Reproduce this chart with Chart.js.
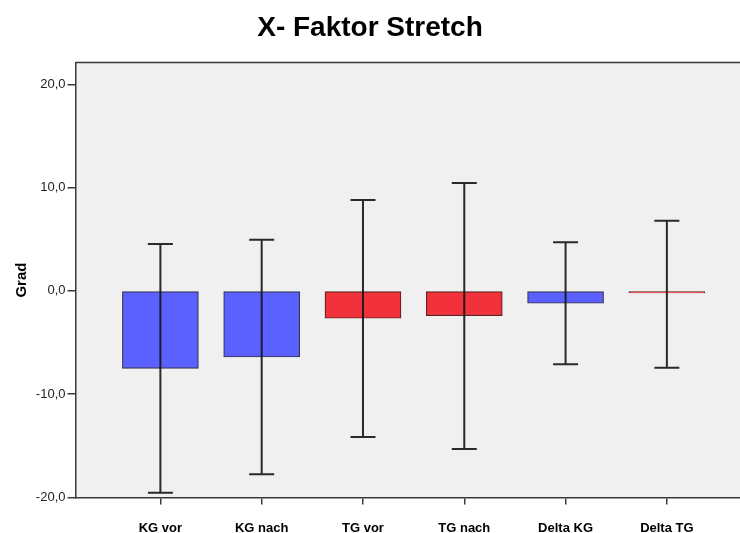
<!DOCTYPE html>
<html>
<head>
<meta charset="utf-8">
<script src="https://cdn.jsdelivr.net/npm/chart.js@4"></script>
<style>
  html, body { margin: 0; padding: 0; background: #ffffff; }
  #wrap { width: 740px; height: 533px; }
</style>
</head>
<body>
<div id="wrap"><canvas id="c" width="740" height="533"></canvas></div>
<script>
// Mean X-factor stretch per group, in degrees, with error bar ends
const categories = ['KG vor', 'KG nach', 'TG vor', 'TG nach', 'Delta KG', 'Delta TG'];
const groups     = ['KG', 'KG', 'TG', 'TG', 'KG', 'TG'];
const means      = [-7.5, -6.4, -2.65, -2.4, -1.2, -0.2];
const upperEnds  = [4.55, 4.95, 8.8, 10.45, 4.7, 6.8];
const lowerEnds  = [-19.55, -17.75, -14.15, -15.3, -7.1, -7.45];
const yTicks     = [-20, -10, 0, 10, 20];

const FONT = "Arial, 'Liberation Sans', sans-serif";
const groupFill = { KG: '#5a61ff', TG: '#f1323b' };
const groupEdge = { KG: 'rgba(20,20,50,0.85)', TG: 'rgba(80,10,10,0.9)' };

// Gray plot panel with a frame line along the top
const panel = {
  id: 'panel',
  beforeDraw(chart) {
    const { ctx, chartArea: a } = chart;
    ctx.save();
    ctx.fillStyle = '#f0f0f0';
    ctx.fillRect(a.left, a.top, a.right - a.left, a.bottom - a.top);
    ctx.strokeStyle = '#3a3a3a';
    ctx.lineWidth = 1.5;
    ctx.beginPath();
    ctx.moveTo(a.left, a.top);
    ctx.lineTo(a.right, a.top);
    ctx.stroke();
    ctx.restore();
  }
};

// Vertical error bars with end caps
const errorBars = {
  id: 'errorBars',
  afterDatasetsDraw(chart) {
    const { ctx, scales: { x, y } } = chart;
    const cap = 12.5;
    ctx.save();
    ctx.strokeStyle = 'rgba(20,20,20,0.9)';
    ctx.lineWidth = 2;
    means.forEach((m, i) => {
      const px = x.getPixelForValue(i);
      const yHi = y.getPixelForValue(upperEnds[i]);
      const yLo = y.getPixelForValue(lowerEnds[i]);
      ctx.beginPath();
      ctx.moveTo(px, yHi); ctx.lineTo(px, yLo);
      ctx.moveTo(px - cap, yHi); ctx.lineTo(px + cap, yHi);
      ctx.moveTo(px - cap, yLo); ctx.lineTo(px + cap, yLo);
      ctx.stroke();
    });
    ctx.restore();
  }
};

new Chart(document.getElementById('c'), {
  type: 'bar',
  data: {
    datasets: [{
      data: means.map((v, i) => ({ x: i, y: v })),
      backgroundColor: groups.map(g => groupFill[g]),
      borderColor: groups.map(g => groupEdge[g]),
      borderWidth: 1.2,
      borderSkipped: false,
      barThickness: 76
    }]
  },
  options: {
    responsive: false,
    animation: false,
    layout: { padding: { left: 0, right: 0, top: 0, bottom: 0 } },
    plugins: {
      legend: { display: false },
      tooltip: { enabled: false },
      title: {
        display: true,
        text: 'X- Faktor Stretch',
        color: '#000000',
        font: { family: FONT, size: 28, weight: 'bold' },
        padding: { top: 11, bottom: 18 }
      }
    },
    scales: {
      x: {
        type: 'linear',
        offset: false,
        min: -0.838,
        max: 5.722,
        afterFit: s => { s.height = 35.5; },
        afterBuildTicks: s => { s.ticks = categories.map((c, i) => ({ value: i })); },
        grid: { display: true, offset: false, drawOnChartArea: false, tickLength: 7, color: '#3a3a3a', lineWidth: 1.5 },
        border: { display: true, color: '#3a3a3a', width: 1.5 },
        ticks: {
          autoSkip: false,
          maxRotation: 0,
          padding: 16,
          color: '#000000',
          font: { family: FONT, size: 13, weight: 'bold' },
          callback: v => categories[v] ?? ''
        }
      },
      y: {
        min: -20,
        max: 22.1,
        afterFit: s => { s.width = 75.5; },
        afterBuildTicks: s => { s.ticks = yTicks.map(v => ({ value: v })); },
        grid: { display: true, drawOnChartArea: false, tickLength: 8, color: '#3a3a3a', lineWidth: 1.5 },
        border: { display: true, color: '#3a3a3a', width: 1.5 },
        ticks: {
          padding: 2,
          color: '#222222',
          font: { family: FONT, size: 13 },
          callback: v => v.toFixed(1).replace('.', ',')
        },
        title: {
          display: true,
          text: 'Grad',
          color: '#000000',
          font: { family: FONT, size: 15, weight: 'bold' },
          padding: { top: 13, bottom: 0 }
        }
      }
    }
  },
  plugins: [panel, errorBars]
});
</script>
</body>
</html>
